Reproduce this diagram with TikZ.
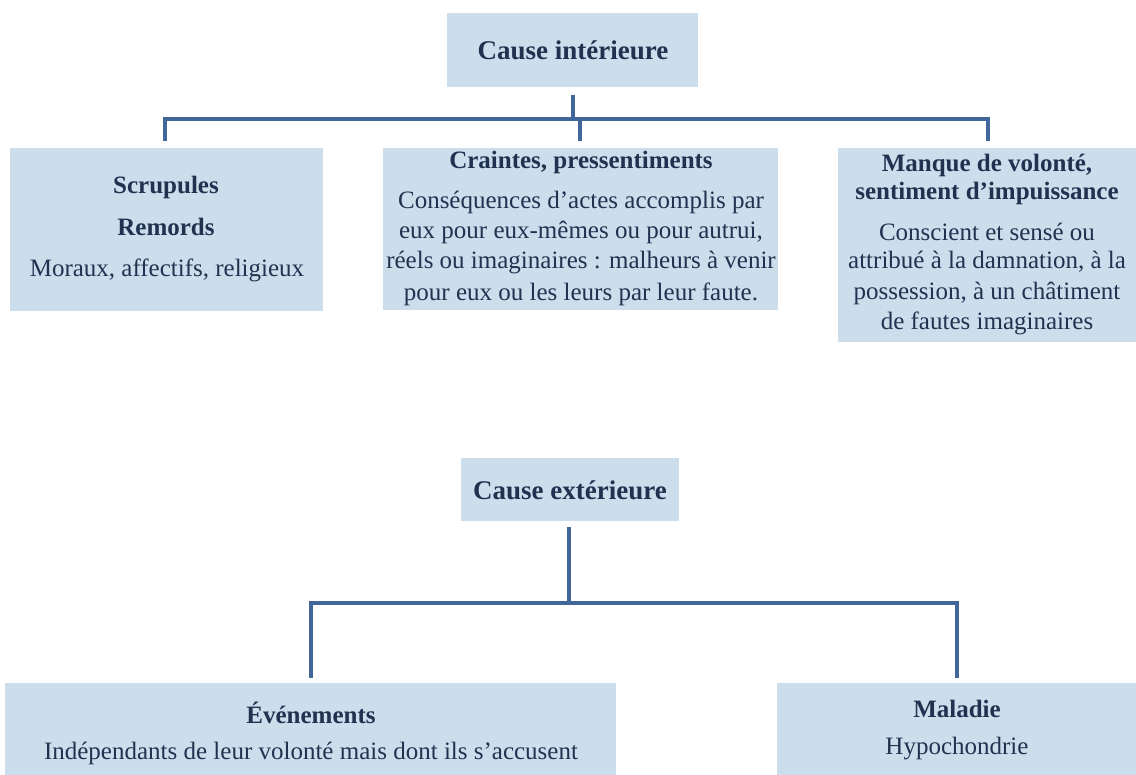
\documentclass[tikz,border=0pt]{standalone}
\usepackage{fontspec}
\setmainfont{Liberation Serif}
\definecolor{boxfill}{HTML}{CCDDEC}
\definecolor{linecol}{HTML}{41679A}
\definecolor{txtcol}{HTML}{1F3350}
\begin{document}
\begin{tikzpicture}[x=1pt,y=-1pt,
  box/.style={fill=boxfill,draw=none,inner sep=0pt,anchor=north west},
  big/.style={text=txtcol,font=\fontsize{27}{30}\selectfont\bfseries,inner sep=0pt},
  ttl/.style={text=txtcol,font=\fontsize{25}{28}\selectfont\bfseries,inner sep=0pt},
  bod/.style={text=txtcol,font=\fontsize{25}{28}\selectfont,inner sep=0pt},
  conn/.style={draw=linecol,line width=4.5pt}]
\useasboundingbox (0,0) rectangle (1136,775);
% boxes
\node[box,minimum width=251pt,minimum height=74pt] (ci) at (447,13) {};
\node[box,minimum width=313pt,minimum height=163pt] (b1) at (10,148) {};
\node[box,minimum width=395pt,minimum height=162pt] (b2) at (383,148) {};
\node[box,minimum width=298pt,minimum height=194pt] (b3) at (838,148) {};
\node[box,minimum width=218pt,minimum height=63pt] (ce) at (461,458) {};
\node[box,minimum width=611pt,minimum height=92pt] (b4) at (5,683) {};
\node[box,minimum width=359pt,minimum height=92pt] (b5) at (777,683) {};
% texts
\node[big] (tci) at (573,50) {Cause intérieure};
\node[ttl] (t1a) at (166,187) {Scrupules};
\node[ttl] (t1b) at (166,227) {Remords};
\node[bod] (t1c) at (167,270) {Moraux, affectifs, religieux};
\node[ttl] (t2a) at (581,162) {Craintes, pressentiments};
\node[bod] (t2b) at (581,202) {Conséquences d’actes accomplis par};
\node[bod] (t2c) at (581,232) {eux pour eux-mêmes ou pour autrui,};
\node[bod] (t2d) at (581,263) {réels ou imaginaires : malheurs à venir};
\node[bod] (t2e) at (581,294) {pour eux ou les leurs par leur faute.};
\node[ttl] (t3a) at (987,165) {Manque de volonté,};
\node[ttl] (t3b) at (987,193) {sentiment d’impuissance};
\node[bod] (t3c) at (987,232) {Conscient et sensé ou};
\node[bod] (t3d) at (987,262) {attribué à la damnation, à la};
\node[bod] (t3e) at (987,293) {possession, à un châtiment};
\node[bod] (t3f) at (987,323) {de fautes imaginaires};
\node[big] (tce) at (570,490) {Cause extérieure};
\node[ttl] (t4a) at (311,713) {Événements};
\node[bod] (t4b) at (311,753) {Indépendants de leur volonté mais dont ils s’accusent};
\node[ttl] (t5a) at (957,709) {Maladie};
\node[bod] (t5b) at (957,749) {Hypochondrie};
% connectors top
\coordinate (ct0) at (573,95);
\coordinate (ctj) at (573,119);
\coordinate (ct1) at (165,141);
\coordinate (ct2) at (580,141);
\coordinate (ct3) at (988,141);
\draw[conn] (ct0) -- (ctj);
\draw[conn] (ct1) -- (ct1 |- ctj) -- (ct3 |- ctj) -- (ct3);
\draw[conn] (ct2 |- ctj) -- (ct2);
% connectors bottom
\coordinate (cb0) at (569,527);
\coordinate (cbj) at (569,603);
\coordinate (cb1) at (311,678);
\coordinate (cb2) at (957,678);
\draw[conn] (cb0) -- (cbj);
\draw[conn] (cb1) -- (cb1 |- cbj) -- (cb2 |- cbj) -- (cb2);
\end{tikzpicture}
\end{document}
